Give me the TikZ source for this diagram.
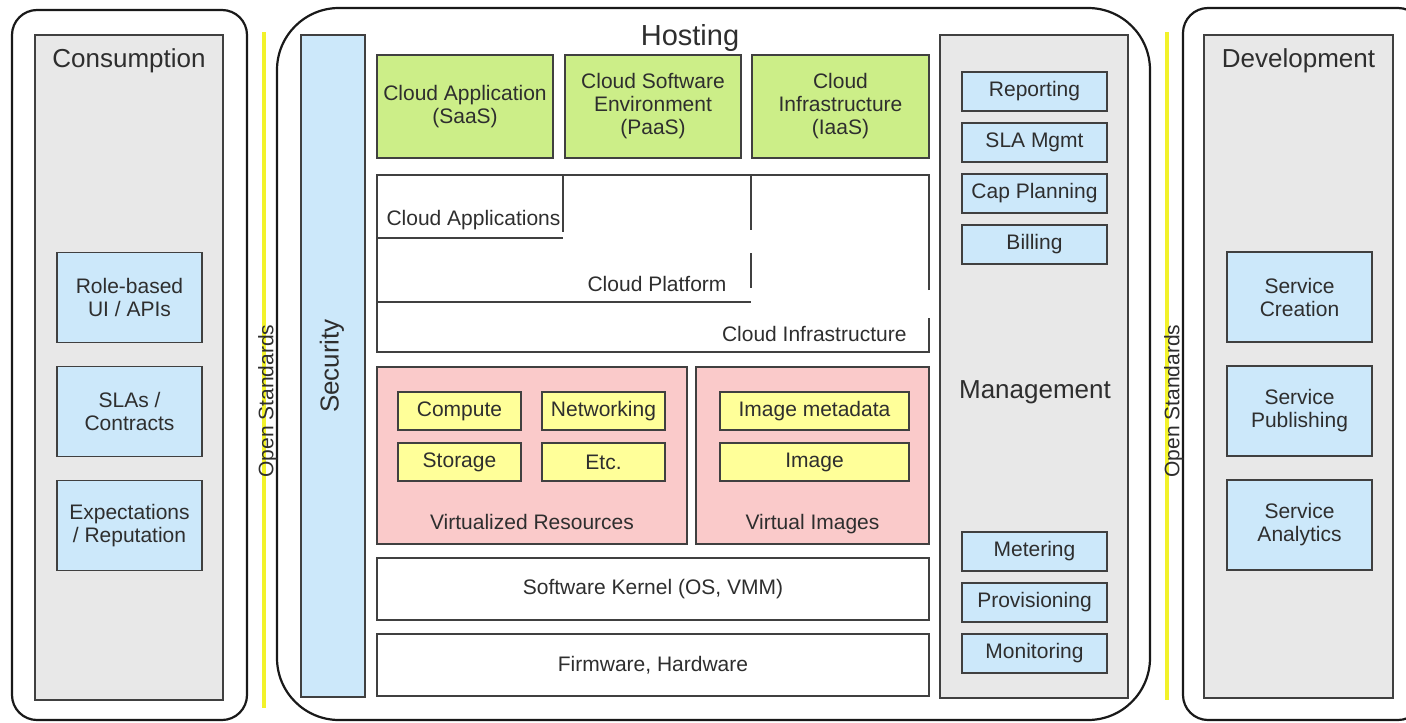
\documentclass[tikz,border=0pt]{standalone}
\usepackage{fontspec}
\setmainfont{Liberation Sans}
\usetikzlibrary{positioning}
\definecolor{panelgray}{HTML}{E8E8E8}
\definecolor{boxblue}{HTML}{CCE8FA}
\definecolor{greenfill}{HTML}{CCEE88}
\definecolor{pinkfill}{HTML}{FACACA}
\definecolor{yellowfill}{HTML}{FFFF99}
\definecolor{stdyellow}{HTML}{F2F22A}
\definecolor{edgegray}{HTML}{404040}
\definecolor{textgray}{HTML}{2E2E2E}

\begin{document}
\begin{tikzpicture}[
    x=1pt, y=-1pt,
    node distance=12pt,
    font=\fontsize{21}{23}\selectfont,
    text=textgray,
    sidebox/.style={
        rectangle,
        draw=black!90,
        line width=2.2pt,
        rounded corners=25pt,
        inner sep=0pt, outer sep=0pt
    },
    panel/.style={
        rectangle,
        draw=edgegray,
        fill=panelgray,
        line width=1.8pt,
        inner sep=0pt, outer sep=0pt
    },
    item/.style={
        rectangle,
        draw=edgegray,
        line width=1.8pt,
        align=center,
        inner sep=0pt, outer sep=0pt
    },
    mgmt/.style={item, fill=boxblue, minimum width=145pt, minimum height=39pt},
    role/.style={item, fill=boxblue, minimum width=145pt, minimum height=90pt},
    service/.style={item, fill=greenfill, minimum width=176pt, minimum height=103pt},
    resource/.style={item, fill=yellowfill, minimum width=123pt, minimum height=38pt},
    layer/.style={item, fill=white, minimum width=552pt, minimum height=62pt},
    stack/.style={draw=edgegray, line width=1.8pt},
    heading/.style={font=\fontsize{26}{28}\selectfont, anchor=base},
    standard/.style={draw=stdyellow, line width=4pt}
  ]
  \useasboundingbox (0,0) rectangle (1406,723);
  \clip (0,0) rectangle (1406,723);

  % We start by placing the three frames
  \node [sidebox, minimum width=235pt, minimum height=710pt] (consframe) at (129.5,365) {};
  \node [sidebox, rounded corners=62pt, minimum width=873pt, minimum height=712pt] (hostframe) at (713.5,364) {};
  \node [sidebox, anchor=west, minimum width=240pt, minimum height=712pt] (devframe) at (1183,364) {};

  \draw [standard] (264,32) -- (264,708);
  \node [rotate=90] (openleft) at (268,401) {Open Standards};
  \draw [standard] (1167,32) -- (1167,700);
  \node [rotate=90] (openright) at (1174,401) {Open Standards};

  % consumption
  \node [panel, minimum width=188pt, minimum height=665pt] (consumption) at (129,367.5) {};
  \node [heading] (constitle) at (129,67) {Consumption};
  \node [role] (roleui) at (129.5,297.5) {Role-based\\UI / APIs};
  \node [role, below=24pt of roleui] (slas) {SLAs /\\Contracts};
  \node [role, below=24pt of slas] (expect) {Expectations\\/ Reputation};

  % hosting
  \node [heading, font=\fontsize{29}{31}\selectfont] (hosttitle) at (690,45) {Hosting};
  \node [item, fill=boxblue, minimum width=64pt, minimum height=662pt] (security) at (333,366) {};
  \node [rotate=90, font=\fontsize{26}{28}\selectfont] (sectext) at (332,366) {Security};

  \node [service] (saas) at (465,106.5) {Cloud Application\\(SaaS)};
  \node [service, right=12pt of saas] (paas) {Cloud Software\\Environment\\(PaaS)};
  \node [service, right=11pt of paas, minimum width=177pt] (iaas) {Cloud\\Infrastructure\\(IaaS)};

  \draw [stack] (929,290) -- (929,175) -- (377,175) -- (377,352) -- (929,352) -- (929,318);
  \draw [stack] (563,175) -- (563,232) (377,238) -- (563,238);
  \draw [stack] (751,175) -- (751,230) (751,253) -- (751,288) (377,302) -- (751,302);
  \node [anchor=base west] (appslabel) at (383,225) {Cloud Applications};
  \node [anchor=base east] (platlabel) at (730,291) {Cloud Platform};
  \node [anchor=base east] (infralabel) at (910,341) {Cloud Infrastructure};

  \node [item, fill=pinkfill, minimum width=310pt, minimum height=177pt] (virtres) at (532,455.5) {};
  \node [item, fill=pinkfill, minimum width=233pt, minimum height=177pt] (virtimg) at (812.5,455.5) {};
  \node [anchor=base] (virtreslabel) at (532,529) {Virtualized Resources};
  \node [anchor=base] (virtimglabel) at (812.5,529) {Virtual Images};

  \node [resource] (compute) at (459.5,411) {Compute};
  \node [resource, right=21pt of compute] (networking) {Networking};
  \node [resource, below=13pt of compute] (storage) {Storage};
  \node [resource, below=13pt of networking] (etc) {Etc.};
  \node [resource, minimum width=189pt] (imgmeta) at (814.5,411) {Image metadata};
  \node [resource, minimum width=189pt, below=13pt of imgmeta] (image) {Image};

  \node [layer] (kernel) at (653,589) {Software Kernel (OS, VMM)};
  \node [layer, below=14pt of kernel] (firmware) {Firmware, Hardware};

  % management
  \node [panel, minimum width=188pt, minimum height=663pt] (management) at (1034,366.5) {};
  \node [heading] (mgmttitle) at (1035,398) {Management};
  \node [mgmt] (reporting) at (1034.5,91.5) {Reporting};
  \node [mgmt, below=of reporting] (slamgmt) {SLA Mgmt};
  \node [mgmt, below=of slamgmt] (capplan) {Cap Planning};
  \node [mgmt, below=of capplan] (billing) {Billing};
  \node [mgmt] (metering) at (1034.5,551.5) {Metering};
  \node [mgmt, below=of metering] (provisioning) {Provisioning};
  \node [mgmt, below=of provisioning] (monitoring) {Monitoring};

  % development
  \node [panel, minimum width=189pt, minimum height=663pt] (development) at (1298.5,366.5) {};
  \node [heading] (devtitle) at (1298.5,67) {Development};
  \node [role] (creation) at (1299.5,297) {Service\\Creation};
  \node [role, below=24pt of creation] (publishing) {Service\\Publishing};
  \node [role, below=24pt of publishing] (analytics) {Service\\Analytics};

\end{tikzpicture}
\end{document}
